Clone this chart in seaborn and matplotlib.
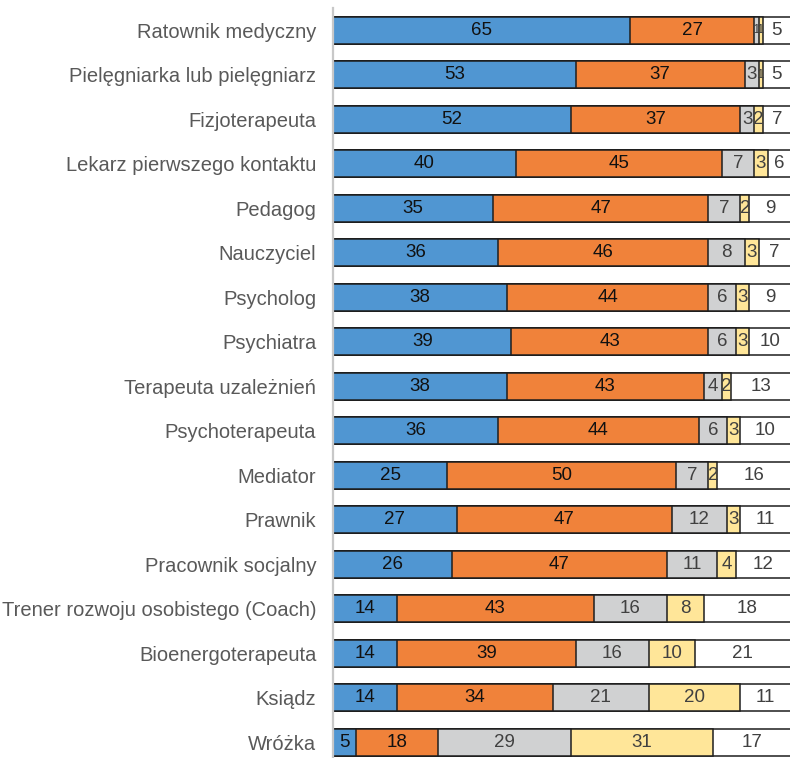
import numpy as np
import pandas as pd
import seaborn as sns
import matplotlib.pyplot as plt

# Categories (top to bottom)
names = [
    "Ratownik medyczny", "Pielęgniarka lub pielęgniarz", "Fizjoterapeuta",
    "Lekarz pierwszego kontaktu", "Pedagog", "Nauczyciel", "Psycholog",
    "Psychiatra", "Terapeuta uzależnień", "Psychoterapeuta", "Mediator",
    "Prawnik", "Pracownik socjalny", "Trener rozwoju osobistego (Coach)",
    "Bioenergoterapeuta", "Ksiądz", "Wróżka",
]

# Segment values (%)
s1 = [65, 53, 52, 40, 35, 36, 38, 39, 38, 36, 25, 27, 26, 14, 14, 14, 5]
s2 = [27, 37, 37, 45, 47, 46, 44, 43, 43, 44, 50, 47, 47, 43, 39, 34, 18]
s3 = [1, 3, 3, 7, 7, 8, 6, 6, 4, 6, 7, 12, 11, 16, 16, 21, 29]
s4 = [1, 1, 2, 3, 2, 3, 3, 3, 2, 3, 2, 3, 4, 8, 10, 20, 31]
s5 = [5, 5, 7, 6, 9, 7, 9, 10, 13, 10, 16, 11, 12, 18, 21, 11, 17]

series = [s1, s2, s3, s4, s5]
colors = ["#5096D2", "#F0823A", "#D0D1D2", "#FFE699", "#FFFFFF"]
text_colors = ["#111111", "#111111", "#404040", "#404040", "#404040"]

sns.set_style("white")
plt.rcParams["font.family"] = ["Liberation Sans", "DejaVu Sans"]

df = pd.DataFrame({"name": names})
cum = np.cumsum(np.array(series), axis=0).astype(float)
# last segment is the remainder up to the full 100% bar
cum[-1] = 100

fig = plt.figure(figsize=(7.9, 7.58), dpi=100)
ax = fig.add_axes([333 / 790, 1 - 764.5 / 758, 459 / 790, 756.5 / 758])

# draw cumulative bars from the widest to the narrowest so they stack
for i in range(len(series) - 1, -1, -1):
    df["val"] = cum[i]
    sns.barplot(data=df, x="val", y="name", orient="h", color=colors[i],
                edgecolor="#1e1e1e", linewidth=1.1, width=0.61,
                saturation=1, ax=ax)

# value labels, centred in each segment
for i, vals in enumerate(series):
    for j, v in enumerate(vals):
        start = cum[i - 1][j] if i > 0 else 0
        mid = (start + cum[i][j]) / 2
        size = 9.5 if v < 2 else 13.5
        ax.text(mid, j, str(v), ha="center", va="center",
                fontsize=size, color=text_colors[i])

ax.set_xlim(0, 100.3)
ax.set_ylim(16.5, -0.5)
ax.set_xlabel("")
ax.set_ylabel("")
ax.set_xticks([])

for side in ["top", "right", "bottom"]:
    ax.spines[side].set_visible(False)
ax.spines["left"].set_color("#C8C8C8")
ax.spines["left"].set_linewidth(1.6)

ax.set_yticks(np.arange(-0.5, 17, 1), minor=True)
ax.tick_params(axis="y", which="minor", length=6, width=1.6, color="#C8C8C8")
ax.tick_params(axis="y", which="major", length=0, pad=12,
               labelsize=14.5, labelcolor="#595959")

fig.savefig("out.png", dpi=100)
